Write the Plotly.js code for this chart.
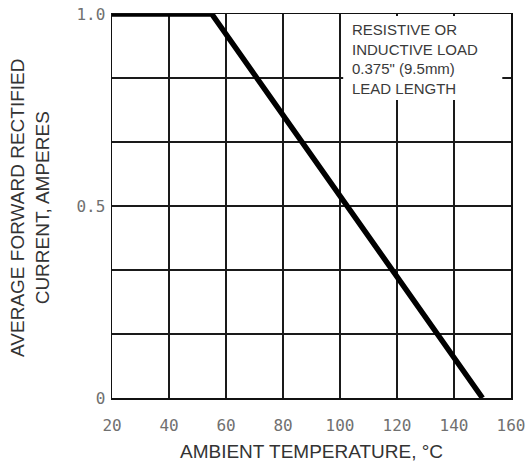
<!DOCTYPE html>
<html>
<head>
<meta charset="utf-8">
<script src="https://cdn.plot.ly/plotly-3.0.1.min.js"></script>
<style>html,body{margin:0;padding:0;background:#fff;}#chart{width:525px;height:461px;}</style>
</head>
<body>
<div id="chart"></div>
<script>
// Data
const ambientTempC = [20, 55, 150];
const forwardCurrentA = [1.0, 1.0, 0];

// Axis ticks
const xTickVals = [20, 40, 60, 80, 100, 120, 140, 160];
const xTickText = ['20', '40', '60', '80', '100', '120', '140', '160'];
const yTickVals = [0, 1/6, 2/6, 3/6, 4/6, 5/6, 1.0];
const yTickText = ['0', '', '', '0.5', '', '', '1.0'];

// Texts
const xTitle = 'AMBIENT TEMPERATURE, °C';
const yTitle = 'AVERAGE FORWARD RECTIFIED<br>CURRENT, AMPERES';
const noteText = 'RESISTIVE OR<br>INDUCTIVE LOAD<br>0.375" (9.5mm)<br>LEAD LENGTH';

const textFont = 'Liberation Sans, Arial, Helvetica, sans-serif';
const tickFont = {family: 'DejaVu Sans Mono, monospace', size: 16, color: '#707070'};

const trace = {
  x: ambientTempC,
  y: forwardCurrentA,
  type: 'scatter',
  mode: 'lines',
  line: {color: '#000', width: 5.5},
  cliponaxis: false,
  hoverinfo: 'skip'
};

const layout = {
  width: 525,
  height: 461,
  margin: {l: 112, r: 14, t: 14, b: 63},
  paper_bgcolor: '#fff',
  plot_bgcolor: '#fff',
  showlegend: false,
  xaxis: {
    range: [20, 160],
    tickvals: xTickVals,
    ticktext: xTickText,
    tickfont: tickFont,
    ticks: '',
    ticklabelstandoff: 12,
    ticklabeloverflow: 'allow',
    showgrid: true,
    gridcolor: '#1a1a1a',
    gridwidth: 1.2,
    zeroline: false,
    showline: true,
    mirror: true,
    linecolor: '#111',
    linewidth: 1.5,
    fixedrange: true
  },
  yaxis: {
    range: [0, 1.0],
    tickvals: yTickVals,
    ticktext: yTickText,
    tickfont: tickFont,
    ticks: '',
    ticklabelstandoff: 2,
    ticklabeloverflow: 'allow',
    showgrid: true,
    gridcolor: '#1a1a1a',
    gridwidth: 1.2,
    zeroline: false,
    showline: true,
    mirror: true,
    linecolor: '#111',
    linewidth: 1.5,
    fixedrange: true
  },
  shapes: [{
    type: 'rect',
    xref: 'paper', yref: 'paper',
    x0: (343 - 112) / 398.7, x1: (502 - 112) / 398.7,
    y0: (398 - 100) / 384, y1: (398 - 16) / 384,
    fillcolor: '#fff',
    line: {width: 0},
    layer: 'above'
  }],
  annotations: [
    {
      text: noteText,
      xref: 'paper', yref: 'paper',
      x: (351 - 112) / 398.7, y: (398 - 20) / 384,
      xanchor: 'left', yanchor: 'top',
      align: 'left',
      showarrow: false,
      borderpad: 0,
      font: {family: textFont, size: 15, color: '#3a3a3a'}
    },
    {
      text: yTitle,
      xref: 'paper', yref: 'paper',
      x: (30 - 112) / 398.7, y: (398 - 208) / 384,
      xanchor: 'center', yanchor: 'middle',
      textangle: -90,
      showarrow: false,
      font: {family: textFont, size: 19, color: '#333'}
    },
    {
      text: xTitle,
      xref: 'paper', yref: 'paper',
      x: 0.5, y: (398 - 451) / 384,
      xanchor: 'center', yanchor: 'middle',
      showarrow: false,
      font: {family: textFont, size: 19, color: '#333'}
    }
  ]
};

Plotly.newPlot('chart', [trace], layout, {staticPlot: true, displayModeBar: false});
</script>
</body>
</html>
